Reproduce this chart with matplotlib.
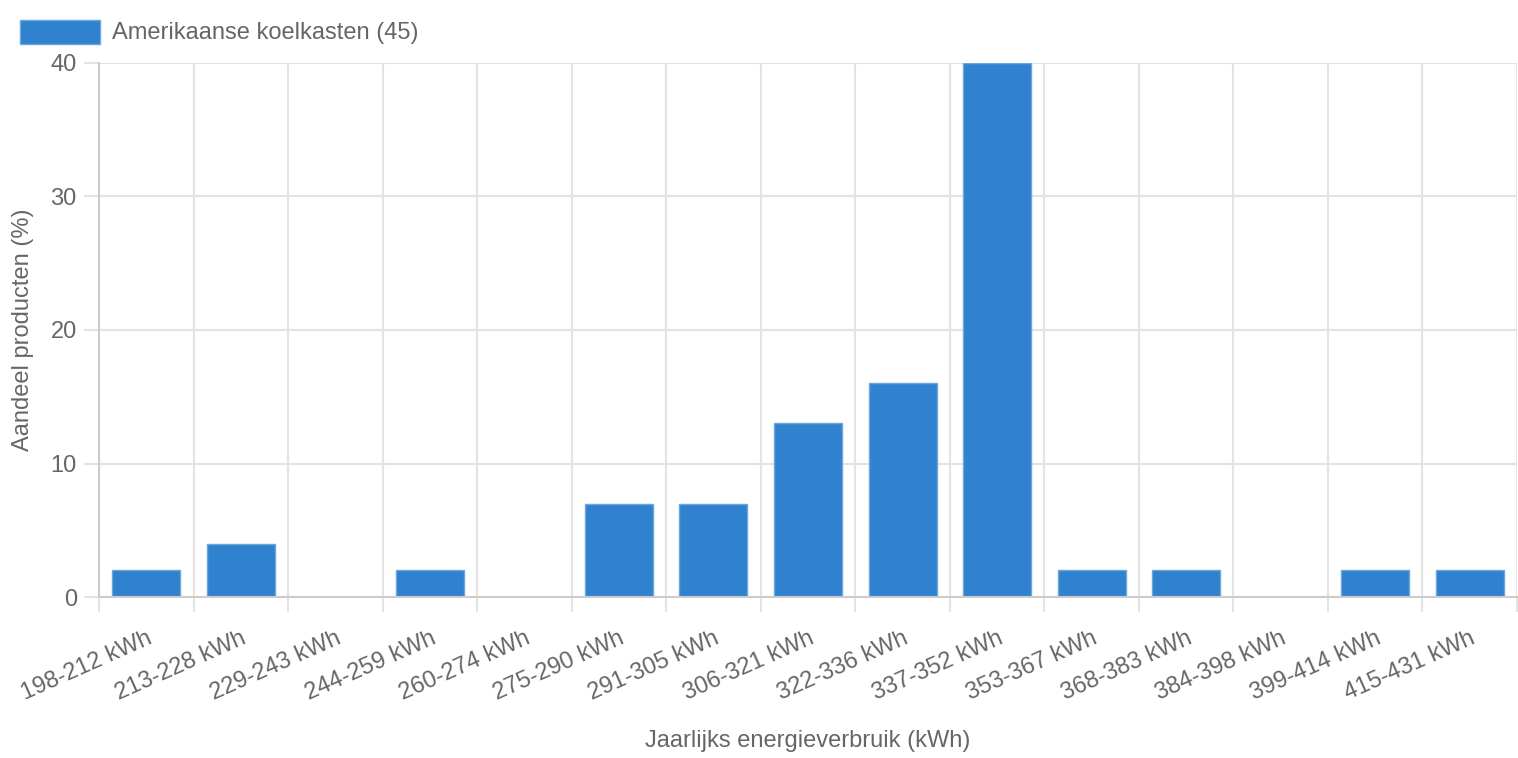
"""
Histogram: annual energy use of American fridges (share of products per kWh band).
"""
import numpy as np
import matplotlib
matplotlib.use("Agg")
import matplotlib.pyplot as plt
from matplotlib.patches import Rectangle

# ------------------------------------------------------------------
# Data
# ------------------------------------------------------------------
BINS = ["198-212 kWh", "213-228 kWh", "229-243 kWh", "244-259 kWh",
        "260-274 kWh", "275-290 kWh", "291-305 kWh", "306-321 kWh",
        "322-336 kWh", "337-352 kWh", "353-367 kWh", "368-383 kWh",
        "384-398 kWh", "399-414 kWh", "415-431 kWh"]
SHARE_PCT = [2, 4, 0, 2, 0, 7, 7, 13, 16, 40, 2, 2, 0, 2, 2]
SERIES_LABEL = "Amerikaanse koelkasten (45)"
Y_TICKS = [0, 10, 20, 30, 40]

BAR_COLOR = "#3182ce"
EDGE_COLOR = "#6aa6e0"
TEXT_COLOR = "#666666"
GRID_COLOR = "#e3e3e3"
AXIS_COLOR = "#cccccc"
FS = 17

W, H = 1518, 758
plt.rcParams["font.family"] = ["Liberation Sans", "DejaVu Sans"]

fig = plt.figure(figsize=(W / 100, H / 100), dpi=100)
ax = fig.add_axes([99 / W, 1 - 597 / H, (1517 - 99) / W, (597 - 63) / H])

x = np.arange(len(BINS))
ax.bar(x, SHARE_PCT, width=0.72, color=BAR_COLOR, edgecolor=EDGE_COLOR,
       linewidth=1.0, zorder=3)

ax.set_xlim(-0.5, len(BINS) - 0.5)
ax.set_ylim(0, 40)

# category ticks: labels at centres, grid lines at boundaries
ax.set_xticks(x)
ax.set_xticklabels(BINS, rotation=24, ha="right", rotation_mode="anchor",
                   fontsize=FS, color=TEXT_COLOR)
ax.set_xticks(np.arange(-0.5, len(BINS)), minor=True)
ax.tick_params(axis="x", which="major", length=0, pad=22)
ax.tick_params(axis="x", which="minor", length=11, width=1.5,
               color=GRID_COLOR)
ax.grid(axis="x", which="minor", color=GRID_COLOR, linewidth=1.5, zorder=0)

ax.set_yticks(Y_TICKS)
ax.tick_params(axis="y", length=11, width=1.5, color=GRID_COLOR, pad=5,
               labelsize=FS, labelcolor=TEXT_COLOR)
ax.grid(axis="y", which="major", color=GRID_COLOR, linewidth=1.5, zorder=0)

for side in ["top", "right"]:
    ax.spines[side].set_visible(False)
for side in ["left", "bottom"]:
    ax.spines[side].set_color(AXIS_COLOR)
    ax.spines[side].set_linewidth(1.5)
    ax.spines[side].set_zorder(4)

ax.set_xlabel("Jaarlijks energieverbruik (kWh)", fontsize=FS,
              color=TEXT_COLOR, labelpad=18)
ax.set_ylabel("Aandeel producten (%)", fontsize=FS, color=TEXT_COLOR,
              labelpad=12)

# legend (top left)
fig.add_artist(Rectangle((20 / W, 1 - 44 / H), 80 / W, 24 / H,
                         transform=fig.transFigure, facecolor=BAR_COLOR,
                         edgecolor=EDGE_COLOR, linewidth=1.0))
fig.text(112 / W, 1 - 33 / H, SERIES_LABEL, fontsize=FS, color=TEXT_COLOR,
         va="center", ha="left")

fig.savefig("out.png", dpi=100)
